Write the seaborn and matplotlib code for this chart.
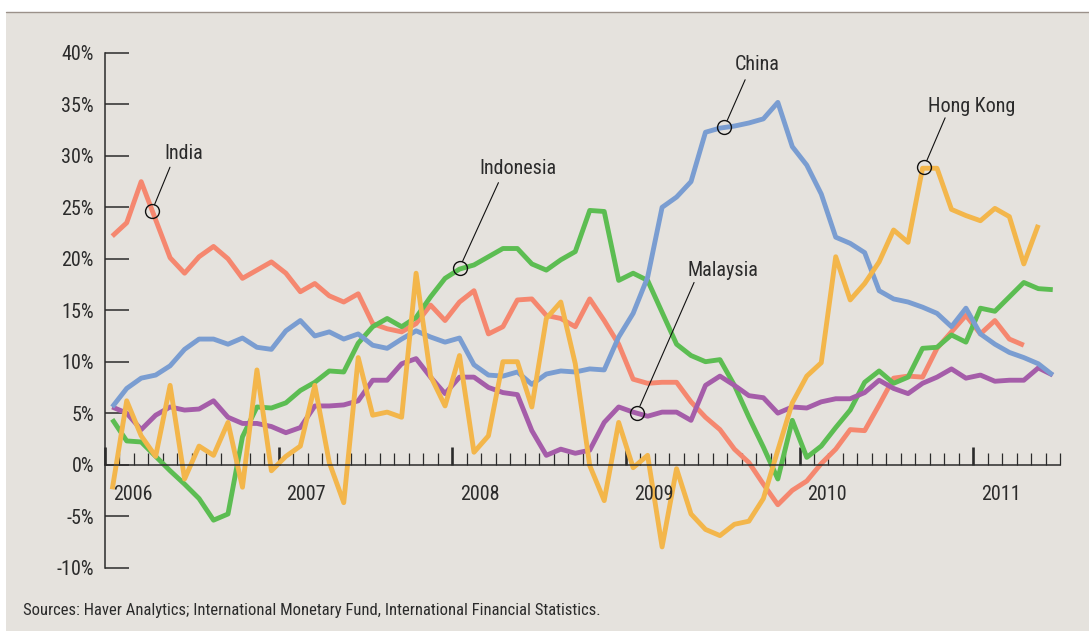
import matplotlib
matplotlib.use("Agg")
import numpy as np
import pandas as pd
import matplotlib.pyplot as plt
import seaborn as sns
from matplotlib.patches import Rectangle
from matplotlib.lines import Line2D

# monthly values, first point = Jan 2006 (percent)
india = [22.2, 23.5, 27.5, 23.8, 20.1, 18.6, 20.2, 21.2, 20.0, 18.1, 18.9, 19.7, 18.6, 16.8, 17.6, 16.4,
         15.8, 16.6, 13.7, 13.2, 12.9, 13.7, 15.5, 14.0, 15.8, 16.9, 12.7, 13.4, 16.0, 16.1, 14.5, 14.2,
         13.4, 16.1, 14.0, 11.7, 8.3, 7.9, 8.0, 8.0, 6.1, 4.6, 3.4, 1.5, 0.2, -1.9, -3.9, -2.5, -1.6, 0.1,
         1.5, 3.4, 3.3, 5.8, 8.4, 8.6, 8.5, 11.3, 12.9, 14.5, 12.7, 14.0, 12.2, 11.6]
indonesia = [4.4, 2.3, 2.2, 0.8, -0.6, -1.9, -3.3, -5.4, -4.8, 2.7, 5.6, 5.5, 6.0, 7.2, 8.0, 9.1, 9.0,
             11.8, 13.4, 14.2, 13.4, 14.3, 16.3, 18.1, 19.0, 19.4, 20.2, 21.0, 21.0, 19.5, 18.9, 19.9,
             20.7, 24.7, 24.6, 17.9, 18.6, 17.9, 14.8, 11.7, 10.6, 10.0, 10.2, 7.7, 4.6, 1.7, -1.4, 4.3,
             0.7, 1.8, 3.6, 5.3, 8.0, 9.1, 7.9, 8.5, 11.3, 11.4, 12.6, 11.9, 15.2, 14.9, 16.3, 17.7, 17.1, 17.0]
malaysia = [5.6, 5.0, 3.4, 4.8, 5.6, 5.3, 5.4, 6.2, 4.6, 4.0, 4.0, 3.7, 3.1, 3.6, 5.7, 5.7, 5.8, 6.2,
            8.2, 8.2, 9.8, 10.3, 8.5, 6.9, 8.5, 8.5, 7.5, 7.0, 6.8, 3.3, 0.9, 1.5, 1.1, 1.4, 4.1, 5.6,
            5.1, 4.7, 5.1, 5.1, 4.3, 7.7, 8.6, 7.7, 6.7, 6.5, 5.0, 5.6, 5.5, 6.1, 6.4, 6.4, 7.0, 8.2,
            7.4, 6.9, 7.9, 8.5, 9.3, 8.4, 8.7, 8.1, 8.2, 8.2, 9.4, 8.7]
china = [5.6, 7.4, 8.4, 8.7, 9.6, 11.2, 12.2, 12.2, 11.7, 12.3, 11.4, 11.2, 13.0, 14.0, 12.5, 12.9, 12.2,
         12.7, 11.6, 11.3, 12.2, 13.0, 12.4, 11.9, 12.3, 9.7, 8.7, 8.6, 9.0, 7.8, 8.8, 9.1, 9.0, 9.3, 9.2,
         12.4, 14.7, 18.2, 25.0, 26.0, 27.5, 32.3, 32.7, 32.9, 33.2, 33.6, 35.2, 30.9, 29.1, 26.3, 22.1,
         21.5, 20.6, 16.9, 16.1, 15.8, 15.3, 14.7, 13.4, 15.2, 12.7, 11.7, 10.9, 10.4, 9.8, 8.7]
hong_kong = [-2.4, 6.2, 2.8, 0.8, 7.7, -1.4, 1.8, 0.9, 4.1, -2.2, 9.2, -0.6, 0.8, 1.8, 7.7, 0.2, -3.7,
             10.4, 4.8, 5.1, 4.6, 18.6, 8.6, 5.7, 10.6, 1.2, 2.8, 10.0, 10.0, 5.6, 14.2, 15.8, 9.8, -0.1,
             -3.5, 4.1, -0.3, 0.9, -8.0, -0.4, -4.8, -6.3, -6.9, -5.8, -5.5, -3.3, 1.4, 6.0, 8.6, 9.9,
             20.2, 16.0, 17.6, 19.7, 22.8, 21.6, 28.8, 28.8, 24.8, 24.2, 23.7, 24.9, 24.1, 19.5, 23.3]

countries = ["India", "Indonesia", "Malaysia", "China", "Hong Kong"]
years = ["2006", "2007", "2008", "2009", "2010", "2011"]
y_ticks = [-10, -5, 0, 5, 10, 15, 20, 25, 30, 35, 40]

palette = {"India": "#F5876F", "Indonesia": "#5CBD52", "Malaysia": "#A55DA9",
           "China": "#7A9DD1", "Hong Kong": "#F3B64B"}
bg = "#E5E2DD"
ink = "#2b2b2b"

values = [india, indonesia, malaysia, china, hong_kong]
rows = []
for name, vals in zip(countries, values):
    for i, v in enumerate(vals):
        rows.append((name, i + 0.5, v))
df = pd.DataFrame(rows, columns=["country", "month", "value"])

sns.set_style("ticks")
# condensed face, like the original
plt.rcParams["font.family"] = ["Roboto Condensed", "Liberation Sans Narrow", "DejaVu Sans"]
plt.rcParams["text.color"] = ink

fig = plt.figure(figsize=(10.89, 6.31), dpi=100)
fig.patch.set_facecolor("white")
fig.add_artist(Rectangle((6 / 1089, 0), 1, 619 / 631, transform=fig.transFigure,
                         facecolor=bg, edgecolor="none", zorder=-5))
fig.add_artist(Line2D([6 / 1089, 1], [619 / 631, 619 / 631], transform=fig.transFigure,
                      color="#9b918a", lw=1.0))

ax = fig.add_axes([105 / 1089, 63.5 / 631, 955 / 1089, 514.5 / 631])
ax.set_facecolor("none")

sns.lineplot(data=df, x="month", y="value", hue="country", hue_order=countries,
             palette=palette, linewidth=3.5, legend=False, ax=ax,
             solid_joinstyle="round", solid_capstyle="butt")

ax.set_xlim(0, 66)
ax.set_ylim(-10, 40)
ax.set_xlabel("")
ax.set_ylabel("")

for s in ["top", "right"]:
    ax.spines[s].set_visible(False)
ax.spines["bottom"].set_position(("data", 0))
ax.spines["left"].set_color(ink)
ax.spines["bottom"].set_color(ink)
ax.spines["left"].set_linewidth(1.1)
ax.spines["bottom"].set_linewidth(1.1)

ax.set_yticks(y_ticks)
ax.set_yticklabels([f"{v}%" for v in y_ticks])
ax.tick_params(axis="y", direction="in", length=17, width=1.1, color=ink,
               labelsize=14.5, labelcolor=ink, pad=8)

# year ticks (tall) and month ticks (short) along the zero line
ax.set_xticks(np.arange(0, 61, 12))
ax.set_xticks(np.arange(0, 67, 1), minor=True)
ax.set_xticklabels([])
ax.tick_params(axis="x", which="major", direction="in", length=13, width=1.9, color=ink)
ax.tick_params(axis="x", which="minor", direction="in", length=8.5, width=0.9, color=ink)

for k, yr in enumerate(years):
    ax.text(12 * k + 0.55, -2.95, yr, ha="left", va="center", fontsize=14.5, color=ink)

# callouts: (label, circle point, line start, label centre)
callouts = [
    ("India", (3.23, 24.6), (4.49, 28.9), (5.44, 30.2)),
    ("Indonesia", (24.5, 19.1), (27.19, 27.4), (28.55, 28.8)),
    ("China", (42.8, 32.8), (44.24, 37.4), (45.07, 38.9)),
    ("Hong Kong", (56.6, 28.9), (58.06, 33.7), (59.91, 34.8)),
    ("Malaysia", (36.77, 5.05), (40.71, 17.7), (42.72, 18.9)),
]
for label, pt, start, centre in callouts:
    ax.plot(*pt, marker="o", ms=10, mfc="none", mec="#111111", mew=1.0, zorder=6)
    ax.annotate("", xy=pt, xytext=start,
                arrowprops=dict(arrowstyle="-", color="#111111", lw=0.8, shrinkA=0, shrinkB=5.2))
    ax.text(centre[0], centre[1], label, ha="center", va="center", fontsize=14.5, color=ink)

fig.text(23 / 1089, 1 - 610 / 631,
         "Sources: Haver Analytics; International Monetary Fund, International Financial Statistics.",
         ha="left", va="center", fontsize=12, color=ink)

fig.savefig("out.png", dpi=100)
